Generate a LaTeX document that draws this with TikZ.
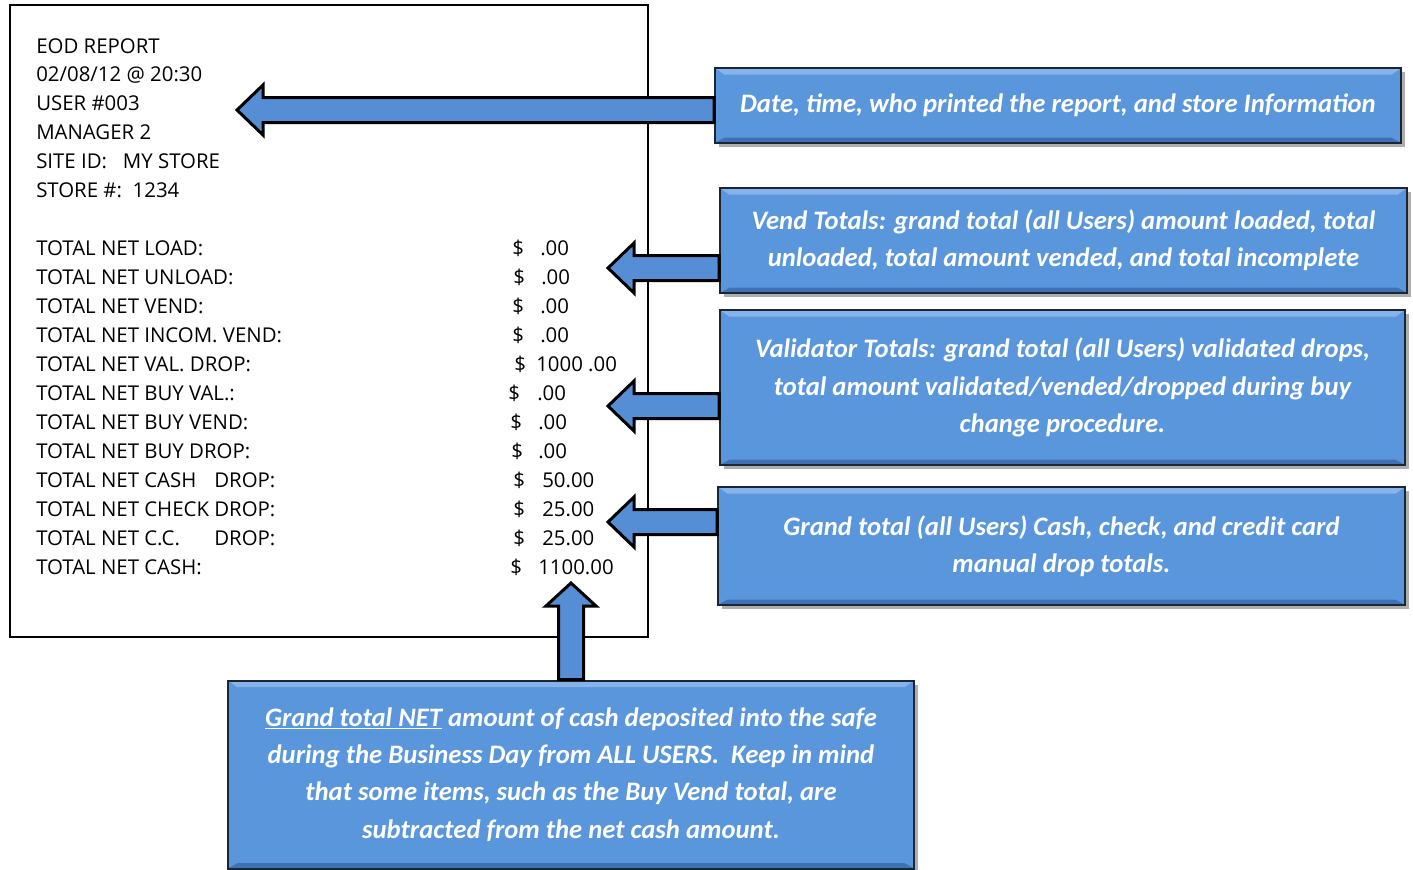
\documentclass[tikz,border=0pt]{standalone}
\usepackage{fontspec}
\setmainfont{Open Sans}
\newfontfamily\calloutfont{Carlito}
\usetikzlibrary{calc,shadows}
\definecolor{boxblue}{HTML}{5A96DC}
\definecolor{arrowblue}{HTML}{558ED5}
\definecolor{boxedge}{HTML}{1C2533}
\definecolor{bevel}{HTML}{86B4EA}
\definecolor{bevdark}{HTML}{3F72B4}

\tikzset{
  callout/.style={draw=boxedge, line width=1.5pt, fill=boxblue, inner sep=0pt,
    align=center, text=white,
    font=\calloutfont\bfseries\itshape\fontsize{20}{28}\selectfont,
    drop shadow={shadow xshift=3pt, shadow yshift=-3pt, opacity=0.45, fill=black!70},
    path picture={
      \fill[bevel] (path picture bounding box.north west) -- (path picture bounding box.north east)
        -- ($(path picture bounding box.north east)+(-7pt,-5pt)$) -- ($(path picture bounding box.north west)+(7pt,-5pt)$) -- cycle;
      \fill[bevdark] (path picture bounding box.south west) -- (path picture bounding box.south east)
        -- ($(path picture bounding box.south east)+(-7pt,4pt)$) -- ($(path picture bounding box.south west)+(7pt,4pt)$) -- cycle;
    }},
  fatarrow/.style={draw=black, line width=2.25pt, fill=arrowblue, line join=miter},
  receipt/.style={anchor=base west, inner sep=0pt, font=\fontsize{15.3}{18}\selectfont},
}

% block arrow pointing left: tip coordinate, callout node
\newcommand{\leftblock}[2]{%
  \filldraw[fatarrow] (#1) -- ++(26,-25) -- ++(0,12.5) -- ($(#1 -| #2.west)+(0,-12.5)$) -- ++(0,25)
    -- ($(#1)+(26,12.5)$) -- ++(0,12.5) -- cycle;}

\begin{document}
\begin{tikzpicture}[x=0.75pt,y=-0.75pt]
  \useasboundingbox (0,0) rectangle (1413,869);

  % the printed report
  \draw[line width=1.5pt] (10,5) rectangle (648,637);
  \node[receipt] (h1) at (36,53) {EOD REPORT};
  \node[receipt] (h2) at (36,81) {02/08/12 @ 20:30};
  \node[receipt] (h3) at (36,110) {USER \#003};
  \node[receipt] (h4) at (36,139) {MANAGER 2};
  \node[receipt] (h5) at (36,168) {SITE ID:\ \ \ MY STORE};
  \node[receipt] (h6) at (36,197) {STORE \#:\ \ 1234};

  \foreach \i/\yy/\lbl/\dx/\ax/\amt in {
      1/248/{TOTAL NET LOAD:}/512/540/.00,
      2/277/{TOTAL NET UNLOAD:}/513/541/.00,
      3/306/{TOTAL NET VEND:}/512/540/.00,
      4/335/{TOTAL NET INCOM. VEND:}/512/540/.00,
      5/364/{TOTAL NET VAL. DROP:}/514/536/{1000 .00},
      6/393/{TOTAL NET BUY VAL.:}/508/537/.00,
      7/422/{TOTAL NET BUY VEND:}/510/538/.00,
      8/451/{TOTAL NET BUY DROP:}/511/538/.00,
      9/480/{\rlap{TOTAL NET CASH}\hphantom{TOTAL NET CHECK }DROP:}/513/542/50.00,
      10/509/{TOTAL NET CHECK DROP:}/513/542/25.00,
      11/538/{\rlap{TOTAL NET C.C.}\hphantom{TOTAL NET CHECK }DROP:}/513/542/25.00,
      12/567/{TOTAL NET CASH:}/510/538/1100.00} {
    \node[receipt] (l\i) at (36,\yy+7) {\lbl};
    \node[receipt] (d\i) at (\dx,\yy+7) {\$};
    \node[receipt] (a\i) at (\ax,\yy+7) {\amt};
  }

  % callouts
  \node[callout, minimum width=514.5pt, minimum height=56.25pt] (b1) at (1058,105.5)
    {Date, time, who printed the report, and store Information};
  \node[callout, minimum width=515.25pt, minimum height=78.75pt] (b2) at (1063.5,240.5)
    {Vend Totals: grand total (all Users) amount loaded, total\\unloaded, total amount vended, and total incomplete};
  \node[callout, minimum width=513.75pt, minimum height=116.25pt] (b3) at (1062.5,387.5)
    {Validator Totals: grand total (all Users) validated drops,\\total amount validated/vended/dropped during buy\\change procedure.};
  \node[callout, minimum width=515.25pt, minimum height=88.5pt] (b4) at (1061.5,546)
    {Grand total (all Users) Cash, check, and credit card\\manual drop totals.};
  \node[callout, minimum width=514.5pt, minimum height=141pt] (b5) at (571,774.5)
    {\underline{Grand total NET} amount of cash deposited into the safe\\during the Business Day from ALL USERS.\ \ Keep in mind\\that some items, such as the Buy Vend total, are\\subtracted from the net cash amount.};

  % arrow tips
  \coordinate (t1) at (237,110);
  \coordinate (t2) at (608,268);
  \coordinate (t3) at (608,406);
  \coordinate (t4) at (608,522);
  \coordinate (t5) at (571,583);

  \leftblock{t1}{b1}
  \leftblock{t2}{b2}
  \leftblock{t3}{b3}
  \leftblock{t4}{b4}

  % up arrow to the net cash line
  \filldraw[fatarrow] (t5) -- ++(25,23) -- ++(-12.5,0) -- ($(t5 |- b5.north)+(12.5,0)$) -- ++(-25,0)
    -- ($(t5)+(-12.5,23)$) -- ++(-12.5,0) -- cycle;

\end{tikzpicture}
\end{document}
